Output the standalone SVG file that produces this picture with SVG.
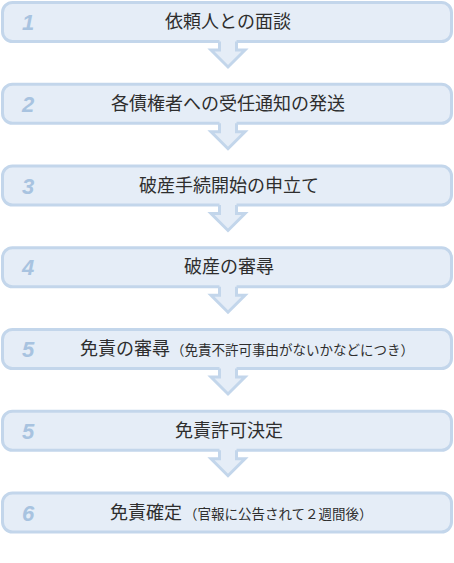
<svg xmlns="http://www.w3.org/2000/svg" xmlns:xlink="http://www.w3.org/1999/xlink" width="454" height="563" viewBox="0 0 454 563">
<style>
.box{fill:#e5edf7;stroke:#c3d6eb;stroke-width:3}
.num{font-family:"Liberation Sans",Arial,sans-serif;font-weight:bold;font-style:italic;font-size:22px;fill:#a8c3e0;text-anchor:middle}
.lbl{font-family:"Noto Sans CJK JP","Noto Sans",sans-serif;font-size:18px;fill:#2e2e2e}
.sm{font-size:13.5px}
.af{fill:#e5edf7;stroke:none}
.as{fill:none;stroke:#c3d6eb;stroke-width:3;stroke-linejoin:miter}
</style>
<defs>
<g id="arrow">
<polygon class="af" points="219.5,16 219.5,28 211,28 228,45 245,28 236.5,28 236.5,16"/>
<polyline class="as" points="219.5,19.5 219.5,28 211,28 228,45 245,28 236.5,28 236.5,19.5"/>
</g>
</defs>
<g id="n1">
<rect class="box" x="2.5" y="2.5" width="449" height="39" rx="10"/>
<text class="num" x="28" y="30">1</text>
<text class="lbl" x="228" y="28" text-anchor="middle">依頼人との面談</text>
</g>
<g id="n2">
<rect class="box" x="2.5" y="84.25" width="449" height="39" rx="10"/>
<text class="num" x="28" y="111.75">2</text>
<text class="lbl" x="228" y="109.75" text-anchor="middle">各債権者への受任通知の発送</text>
</g>
<g id="n3">
<rect class="box" x="2.5" y="166" width="449" height="39" rx="10"/>
<text class="num" x="28" y="193.5">3</text>
<text class="lbl" x="229" y="191.5" text-anchor="middle">破産手続開始の申立て</text>
</g>
<g id="n4">
<rect class="box" x="2.5" y="247.75" width="449" height="39" rx="10"/>
<text class="num" x="28" y="275.25">4</text>
<text class="lbl" x="229" y="273.25" text-anchor="middle">破産の審尋</text>
</g>
<g id="n5">
<rect class="box" x="2.5" y="329.5" width="449" height="39" rx="10"/>
<text class="num" x="28" y="357">5</text>
<text class="lbl" x="80" y="355">免責の審尋<tspan class="sm" x="171">（免責不許可事由がないかなどにつき）</tspan></text>
</g>
<g id="n6">
<rect class="box" x="2.5" y="411.25" width="449" height="39" rx="10"/>
<text class="num" x="28" y="438.75">5</text>
<text class="lbl" x="229" y="436.75" text-anchor="middle">免責許可決定</text>
</g>
<g id="n7">
<rect class="box" x="2.5" y="493" width="449" height="39" rx="10"/>
<text class="num" x="28" y="520.5">6</text>
<text class="lbl" x="110" y="518.5">免責確定<tspan class="sm" x="184">（官報に公告されて２週間後）</tspan></text>
</g>
<g id="connectors">
<use xlink:href="#arrow" transform="translate(0,22)"/>
<use xlink:href="#arrow" transform="translate(0,103.75)"/>
<use xlink:href="#arrow" transform="translate(0,185.5)"/>
<use xlink:href="#arrow" transform="translate(0,267.25)"/>
<use xlink:href="#arrow" transform="translate(0,349)"/>
<use xlink:href="#arrow" transform="translate(0,430.75)"/>
</g>
</svg>
